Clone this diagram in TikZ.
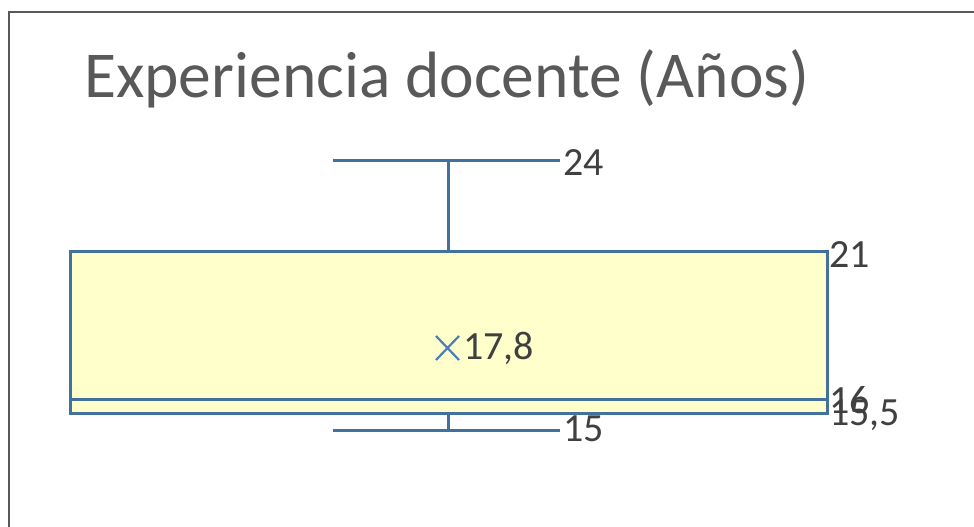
\documentclass[tikz,border=0pt]{standalone}
\usepackage{fontspec}
\setmainfont{Carlito}
\usetikzlibrary{positioning}
\definecolor{boxblue}{RGB}{65,113,156}
\definecolor{meanblue}{RGB}{74,126,187}
\definecolor{boxfill}{RGB}{255,255,204}
\definecolor{titlegray}{RGB}{89,89,89}
\definecolor{labelgray}{RGB}{64,64,64}
\tikzset{
  whisker/.style={draw=boxblue, line width=3pt},
  valuelabel/.style={anchor=west, inner sep=0pt, text=labelgray, font=\fontsize{40}{40}\selectfont}
}

\begin{document}
\begin{tikzpicture}[x=1pt, y=-1pt]
  \useasboundingbox (0,0) rectangle (974,527);
  \fill[white] (0,0) rectangle (974,527);
  \draw[gray!70!black, line width=1.2pt] (9,527) -- (9,12) -- (974,12);% chart frame
  \node[anchor=base west, inner sep=0pt, text=titlegray, font=\fontsize{65.5}{65.5}\selectfont] (title) at (84,97) {Experiencia docente (Años)};
  % whiskers
  \draw[whisker] (448,160) -- (448,251);
  \draw[whisker] (333,160) -- (560,160);
  \draw[whisker] (448,413) -- (448,430);
  \draw[whisker] (333,430) -- (560,430);
  % box
  \filldraw[fill=boxfill, draw=boxblue, line width=3pt] (70,251) rectangle (827,413);
  \draw[whisker] (70,399) -- (827,399);% median
  % mean marker
  \draw[meanblue, line width=2.2pt] (436,336) -- (459,360) (436,360) -- (459,336);
  % labels
  \node[valuelabel] (max) at (563,163) {24};
  \node[valuelabel] (q3) at (829,255) {21};
  \node[valuelabel] (mean) at (463,348) {17,8};
  \node[valuelabel] (med) at (829,400) {16};
  \node[valuelabel] (q1) at (829,415) {15,5};
  \node[valuelabel] (min) at (563,429) {15};
\end{tikzpicture}
\end{document}
